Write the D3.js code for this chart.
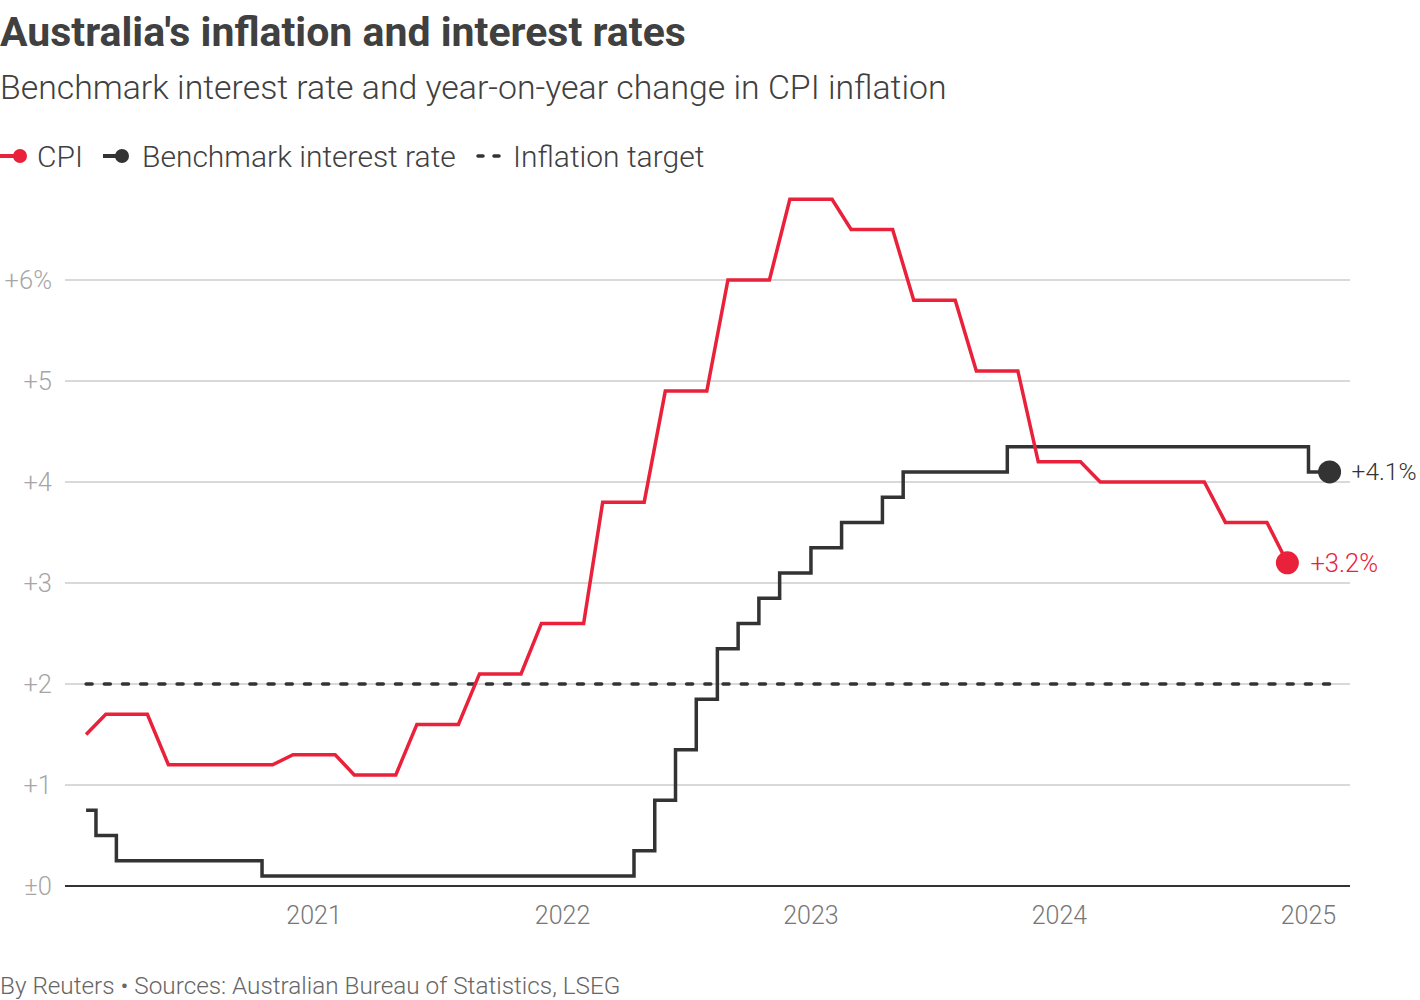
<!DOCTYPE html>
<html>
<head>
<meta charset="utf-8">
<script src="https://cdn.jsdelivr.net/npm/d3@7"></script>
<style>
  html, body { margin: 0; padding: 0; background: #fff; }
  svg { display: block; font-family: "Roboto", "Noto Sans", sans-serif; }
</style>
</head>
<body>
<svg id="chart" width="1420" height="1000"></svg>
<script>
// ---------------- DATA ----------------
const cpiMonths = [
  "2020-02","2020-03","2020-04","2020-05","2020-06","2020-07","2020-08","2020-09","2020-10","2020-11","2020-12",
  "2021-01","2021-02","2021-03","2021-04","2021-05","2021-06","2021-07","2021-08","2021-09","2021-10","2021-11","2021-12",
  "2022-01","2022-02","2022-03","2022-04","2022-05","2022-06","2022-07","2022-08","2022-09","2022-10","2022-11","2022-12",
  "2023-01","2023-02","2023-03","2023-04","2023-05","2023-06","2023-07","2023-08","2023-09","2023-10","2023-11","2023-12",
  "2024-01","2024-02","2024-03","2024-04","2024-05","2024-06","2024-07","2024-08","2024-09","2024-10","2024-11","2024-12"
];
const cpiValues = [
  1.5,1.7,1.7,1.7,1.2,1.2,1.2,1.2,1.2,1.2,1.3,
  1.3,1.3,1.1,1.1,1.1,1.6,1.6,1.6,2.1,2.1,2.1,2.6,
  2.6,2.6,3.8,3.8,3.8,4.9,4.9,4.9,6.0,6.0,6.0,6.8,
  6.8,6.8,6.5,6.5,6.5,5.8,5.8,5.8,5.1,5.1,5.1,4.2,
  4.2,4.2,4.0,4.0,4.0,4.0,4.0,4.0,3.6,3.6,3.6,3.2
];

// Benchmark cash rate at each RBA meeting month
const rateMonths = [
  "2020-02","2020-03","2020-04","2020-05","2020-06","2020-07","2020-08","2020-09","2020-10","2020-11","2020-12",
  "2021-02","2021-03","2021-04","2021-05","2021-06","2021-07","2021-08","2021-09","2021-10","2021-11","2021-12",
  "2022-02","2022-03","2022-04","2022-05","2022-06","2022-07","2022-08","2022-09","2022-10","2022-11","2022-12",
  "2023-02","2023-03","2023-04","2023-05","2023-06","2023-07","2023-08","2023-09","2023-10","2023-11","2023-12",
  "2024-02","2024-03","2024-05","2024-06","2024-08","2024-09","2024-11","2024-12",
  "2025-02"
];
const rateValues = [
  0.75,0.50,0.25,0.25,0.25,0.25,0.25,0.25,0.25,0.10,0.10,
  0.10,0.10,0.10,0.10,0.10,0.10,0.10,0.10,0.10,0.10,0.10,
  0.10,0.10,0.10,0.35,0.85,1.35,1.85,2.35,2.60,2.85,3.10,
  3.35,3.60,3.60,3.85,4.10,4.10,4.10,4.10,4.10,4.35,4.35,
  4.35,4.35,4.35,4.35,4.35,4.35,4.35,4.35,
  4.10
];

const inflationTarget = 2;
const targetStart = "2020-02";
const targetEnd = "2025-02";

const yTicks = [0, 1, 2, 3, 4, 5, 6];
const yTickLabels = ["±0", "+1", "+2", "+3", "+4", "+5", "+6%"];
const xTickYears = ["2021-01", "2022-01", "2023-01", "2024-01", "2025-01"];
const xTickLabels = ["2021", "2022", "2023", "2024", "2025"];

const titleText = "Australia's inflation and interest rates";
const subtitleText = "Benchmark interest rate and year-on-year change in CPI inflation";
const legendLabels = ["CPI", "Benchmark interest rate", "Inflation target"];
const sourceText = "By Reuters \u2022 Sources: Australian Bureau of Statistics, LSEG";

// ---------------- STYLE ----------------
const RED = "#e9213a";
const DARK = "#333333";
const TEXT = "#404040";
const GRID = "#cccccc";

// ---------------- CHART ----------------
const parseM = d3.utcParse("%Y-%m");
const svg = d3.select("#chart");

const x = d3.scaleUtc()
  .domain([d3.utcParse("%Y-%m-%d")("2020-01-01"), d3.utcParse("%Y-%m-%d")("2025-03-03")])
  .range([65, 1350]);
const y = d3.scaleLinear().domain([0, 7]).range([886, 179]);

const cpi = cpiMonths.map((m, i) => ({ date: parseM(m), value: cpiValues[i] }));
const rate = rateMonths.map((m, i) => ({ date: parseM(m), value: rateValues[i] }));

// Title / subtitle
svg.append("text").attr("x", 0).attr("y", 46)
  .attr("fill", TEXT).attr("font-size", 41).attr("font-weight", 700)
  .text(titleText);
svg.append("text").attr("x", 0).attr("y", 99)
  .attr("fill", TEXT).attr("font-size", 33.8).attr("font-weight", 300)
  .text(subtitleText);

// Legend
const LFS = 30;
const lg = svg.append("g").attr("transform", "translate(0,156)");
lg.append("line").attr("x1", 0).attr("x2", 18).attr("y1", 0).attr("y2", 0)
  .attr("stroke", RED).attr("stroke-width", 4);
lg.append("circle").attr("cx", 20).attr("cy", 0).attr("r", 7).attr("fill", RED);
lg.append("text").attr("x", 37).attr("y", 0).attr("dy", "0.35em")
  .attr("fill", TEXT).attr("font-size", LFS).attr("font-weight", 300).text(legendLabels[0]);
lg.append("line").attr("x1", 103).attr("x2", 120).attr("y1", 0).attr("y2", 0)
  .attr("stroke", DARK).attr("stroke-width", 4);
lg.append("circle").attr("cx", 122).attr("cy", 0).attr("r", 7).attr("fill", DARK);
lg.append("text").attr("x", 142).attr("y", 0).attr("dy", "0.35em")
  .attr("fill", TEXT).attr("font-size", LFS).attr("font-weight", 300).text(legendLabels[1]);
lg.append("line").attr("x1", 478).attr("x2", 500).attr("y1", 0).attr("y2", 0)
  .attr("stroke", DARK).attr("stroke-width", 3.5).attr("stroke-linecap", "round")
  .attr("stroke-dasharray", "5 11");
lg.append("text").attr("x", 513).attr("y", 0).attr("dy", "0.35em")
  .attr("fill", TEXT).attr("font-size", LFS).attr("font-weight", 300).text(legendLabels[2]);

// Gridlines + y labels
const yg = svg.append("g");
yg.selectAll("line.grid").data(yTicks.filter(d => d !== 0)).join("line")
  .attr("class", "grid")
  .attr("x1", 65).attr("x2", 1350)
  .attr("y1", d => y(d)).attr("y2", d => y(d))
  .attr("stroke", GRID).attr("stroke-width", 1.5);
yg.selectAll("text").data(yTicks).join("text")
  .attr("x", 52).attr("y", d => y(d)).attr("dy", "0.35em")
  .attr("text-anchor", "end").attr("fill", "#a6a6a6")
  .attr("font-size", 25.5).attr("font-weight", 300)
  .text((d, i) => yTickLabels[i]);

// X labels
const xg = svg.append("g");
xg.selectAll("text").data(xTickYears).join("text")
  .attr("x", d => x(parseM(d))).attr("y", 924)
  .attr("text-anchor", "middle").attr("fill", "#777777")
  .attr("font-size", 25).attr("font-weight", 300)
  .text((d, i) => xTickLabels[i]);

// Inflation target (dash pattern fitted so both ends carry a dash)
const tx1 = x(parseM(targetStart)), tx2 = x(parseM(targetEnd));
const dashLen = 6, nDash = Math.round((tx2 - tx1 - dashLen) / 18.3);
const gapLen = (tx2 - tx1 - dashLen) / nDash - dashLen;
svg.append("line")
  .attr("x1", tx1).attr("x2", tx2)
  .attr("y1", y(inflationTarget)).attr("y2", y(inflationTarget))
  .attr("stroke", DARK).attr("stroke-width", 3.5).attr("stroke-linecap", "round")
  .attr("stroke-dasharray", dashLen + " " + gapLen);

// Baseline
svg.append("line").attr("x1", 65).attr("x2", 1350)
  .attr("y1", y(0)).attr("y2", y(0))
  .attr("stroke", DARK).attr("stroke-width", 2.2);

// Rate line (step)
svg.append("path").datum(rate)
  .attr("fill", "none").attr("stroke", DARK).attr("stroke-width", 3.5)
  .attr("d", d3.line().x(d => x(d.date)).y(d => y(d.value)).curve(d3.curveStep));

// CPI line
svg.append("path").datum(cpi)
  .attr("fill", "none").attr("stroke", RED).attr("stroke-width", 3.5)
  .attr("stroke-linejoin", "miter")
  .attr("d", d3.line().x(d => x(d.date)).y(d => y(d.value)));

// End dots and labels
const lastRate = rate[rate.length - 1];
const lastCpi = cpi[cpi.length - 1];
svg.append("circle").attr("cx", x(lastRate.date)).attr("cy", y(lastRate.value)).attr("r", 11.5).attr("fill", DARK);
svg.append("circle").attr("cx", x(lastCpi.date)).attr("cy", y(lastCpi.value)).attr("r", 11.5).attr("fill", RED);
svg.append("text").attr("x", x(lastRate.date) + 22).attr("y", y(lastRate.value)).attr("dy", "0.35em")
  .attr("fill", DARK).attr("font-size", 24.5).attr("font-weight", 300)
  .text("+" + lastRate.value.toFixed(1) + "%");
svg.append("text").attr("x", x(lastCpi.date) + 23).attr("y", y(lastCpi.value)).attr("dy", "0.35em")
  .attr("fill", RED).attr("font-size", 25.5).attr("font-weight", 300)
  .text("+" + lastCpi.value.toFixed(1) + "%");

// Source
svg.append("text").attr("x", 0).attr("y", 994)
  .attr("fill", "#666666").attr("font-size", 24.3).attr("font-weight", 300)
  .text(sourceText);
</script>
</body>
</html>
